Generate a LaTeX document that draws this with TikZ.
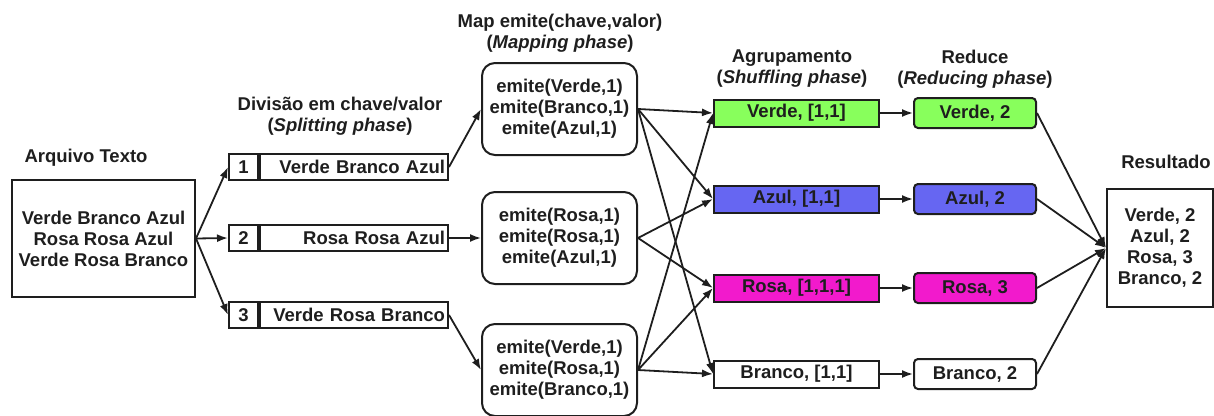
\documentclass[tikz,border=0pt]{standalone}
\usepackage{fontspec}
\setmainfont{Liberation Sans}
\usetikzlibrary{arrows.meta}
\definecolor{vgreen}{HTML}{88FF5C}
\definecolor{vblue}{HTML}{6666F2}
\definecolor{vmag}{HTML}{F21ACC}
\definecolor{ink}{HTML}{1E1E1E}
\begin{document}
\begin{tikzpicture}[x=1pt,y=-1pt,
  every node/.style={font=\fontsize{18.5}{21}\selectfont\bfseries, text=ink},
  plain/.style={draw=ink, line width=2pt, align=center, inner sep=0pt},
  numcell/.style={plain, minimum width=29pt, minimum height=26pt},
  txtcell/.style={plain, minimum width=188pt, minimum height=26pt, text width=182pt, align=right},
  mapbox/.style={plain, rounded corners=13pt, minimum width=155pt, minimum height=92pt},
  shufbox/.style={plain, minimum width=165pt, minimum height=27pt},
  redbox/.style={plain, rounded corners=4pt, minimum width=122pt, minimum height=30pt},
  heading/.style={align=center},
  arr/.style={draw=ink, line width=1.8pt, -{Latex[length=11pt,width=8pt]}}
]
\useasboundingbox (0,0) rectangle (1214,415);

% headings
\node[heading] (h1) at (86,158) {Arquivo Texto};
\node[heading] (h2) at (340,116) {Divisão em chave/valor\\(\textit{Splitting phase})};
\node[heading] (h3) at (560,33) {Map emite(chave,valor)\\(\textit{Mapping phase})};
\node[heading] (h4) at (792,69) {Agrupamento\\(\textit{Shuffling phase})};
\node[heading] (h5) at (975,69) {Reduce\\(\textit{Reducing phase})};
\node[heading] (h6) at (1166,162) {Resultado};

% input text
\node[plain, minimum width=183pt, minimum height=117pt] (in) at (103.5,238.5)
  {Verde Branco Azul\\Rosa Rosa Azul\\Verde Rosa Branco};

% splitting
\node[numcell] (n1) at (243.5,167) {1};
\node[txtcell, anchor=west] (s1) at (n1.east) {Verde Branco Azul};
\node[numcell] (n2) at (243.5,238) {2};
\node[txtcell, anchor=west] (s2) at (n2.east) {Rosa Rosa Azul};
\node[numcell] (n3) at (243.5,315) {3};
\node[txtcell, anchor=west] (s3) at (n3.east) {Verde Rosa Branco};

% mapping
\node[mapbox] (m1) at (559.5,109) {emite(Verde,1)\\emite(Branco,1)\\emite(Azul,1)};
\node[mapbox] (m2) at (559.5,238) {emite(Rosa,1)\\emite(Rosa,1)\\emite(Azul,1)};
\node[mapbox] (m3) at (559.5,370) {emite(Verde,1)\\emite(Rosa,1)\\emite(Branco,1)};

% shuffling
\node[shufbox, fill=vgreen] (g1) at (796.5,113) {Verde, [1,1]};
\node[shufbox, fill=vblue] (g2) at (796.5,199) {Azul, [1,1]};
\node[shufbox, fill=vmag] (g3) at (796.5,288) {Rosa, [1,1,1]};
\node[shufbox, fill=white] (g4) at (796.5,374) {Branco, [1,1]};

% reducing
\node[redbox, fill=vgreen] (r1) at (975,113) {Verde, 2};
\node[redbox, fill=vblue] (r2) at (975,199) {Azul, 2};
\node[redbox, fill=vmag] (r3) at (975,288) {Rosa, 3};
\node[redbox, fill=white] (r4) at (975,374) {Branco, 2};

% result
\node[plain, minimum width=106pt, minimum height=118pt] (out) at (1160,248)
  {Verde, 2\\Azul, 2\\Rosa, 3\\Branco, 2};

% input -> splits
\draw[arr] (in.east) -- (n1.west);
\draw[arr] (in.east) -- (n2.west);
\draw[arr] (in.east) -- (n3.west);

% splits -> map
\draw[arr] (s1.east) -- (m1.west);
\draw[arr] (s2.east) -- (m2.west);
\draw[arr] (s3.east) -- (m3.west);

% map -> shuffle
\draw[arr] (m1.east) -- (g1.west);
\draw[arr] (m1.east) -- (g2.west);
\draw[arr] (m1.east) -- (g4.west);
\draw[arr] (m2.east) -- (g2.west);
\draw[arr] (m2.east) -- (g3.west);
\draw[arr] (m3.east) -- (g1.west);
\draw[arr] (m3.east) -- (g3.west);
\draw[arr] (m3.east) -- (g4.west);

% shuffle -> reduce
\foreach \i in {1,2,3,4} \draw[arr] (g\i.east) -- (r\i.west);

% reduce -> result
\foreach \i in {1,2,3,4} \draw[arr] (r\i.east) -- (out.west);
\end{tikzpicture}
\end{document}
